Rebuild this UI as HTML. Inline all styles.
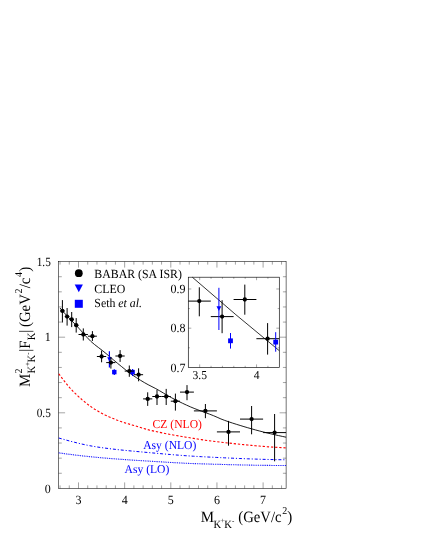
<!DOCTYPE html>
<html><head><meta charset="utf-8"><title>plot</title>
<style>
html,body{margin:0;padding:0;background:#fff;}
body{width:423px;height:547px;overflow:hidden;font-family:"Liberation Serif",serif;}
svg{display:block;position:absolute;left:0;top:0;will-change:transform;}
text{text-rendering:geometricPrecision;}
</style></head><body>
<svg width="423" height="547" viewBox="0 0 423 547">
<rect width="423" height="547" fill="#fff"/>
<rect x="58.6" y="261.6" width="227.50" height="226.80" fill="none" stroke="#000" stroke-width="0.55"/>
<line x1="60.04" y1="488.40" x2="60.04" y2="485.40" stroke="#000" stroke-width="0.36" />
<line x1="60.04" y1="261.60" x2="60.04" y2="264.60" stroke="#000" stroke-width="0.36" />
<line x1="69.27" y1="488.40" x2="69.27" y2="485.40" stroke="#000" stroke-width="0.36" />
<line x1="69.27" y1="261.60" x2="69.27" y2="264.60" stroke="#000" stroke-width="0.36" />
<line x1="78.50" y1="488.40" x2="78.50" y2="482.40" stroke="#000" stroke-width="0.36" />
<line x1="78.50" y1="261.60" x2="78.50" y2="267.60" stroke="#000" stroke-width="0.36" />
<line x1="87.73" y1="488.40" x2="87.73" y2="485.40" stroke="#000" stroke-width="0.36" />
<line x1="87.73" y1="261.60" x2="87.73" y2="264.60" stroke="#000" stroke-width="0.36" />
<line x1="96.96" y1="488.40" x2="96.96" y2="485.40" stroke="#000" stroke-width="0.36" />
<line x1="96.96" y1="261.60" x2="96.96" y2="264.60" stroke="#000" stroke-width="0.36" />
<line x1="106.19" y1="488.40" x2="106.19" y2="485.40" stroke="#000" stroke-width="0.36" />
<line x1="106.19" y1="261.60" x2="106.19" y2="264.60" stroke="#000" stroke-width="0.36" />
<line x1="115.42" y1="488.40" x2="115.42" y2="485.40" stroke="#000" stroke-width="0.36" />
<line x1="115.42" y1="261.60" x2="115.42" y2="264.60" stroke="#000" stroke-width="0.36" />
<line x1="124.65" y1="488.40" x2="124.65" y2="482.40" stroke="#000" stroke-width="0.36" />
<line x1="124.65" y1="261.60" x2="124.65" y2="267.60" stroke="#000" stroke-width="0.36" />
<line x1="133.88" y1="488.40" x2="133.88" y2="485.40" stroke="#000" stroke-width="0.36" />
<line x1="133.88" y1="261.60" x2="133.88" y2="264.60" stroke="#000" stroke-width="0.36" />
<line x1="143.11" y1="488.40" x2="143.11" y2="485.40" stroke="#000" stroke-width="0.36" />
<line x1="143.11" y1="261.60" x2="143.11" y2="264.60" stroke="#000" stroke-width="0.36" />
<line x1="152.34" y1="488.40" x2="152.34" y2="485.40" stroke="#000" stroke-width="0.36" />
<line x1="152.34" y1="261.60" x2="152.34" y2="264.60" stroke="#000" stroke-width="0.36" />
<line x1="161.57" y1="488.40" x2="161.57" y2="485.40" stroke="#000" stroke-width="0.36" />
<line x1="161.57" y1="261.60" x2="161.57" y2="264.60" stroke="#000" stroke-width="0.36" />
<line x1="170.80" y1="488.40" x2="170.80" y2="482.40" stroke="#000" stroke-width="0.36" />
<line x1="170.80" y1="261.60" x2="170.80" y2="267.60" stroke="#000" stroke-width="0.36" />
<line x1="180.03" y1="488.40" x2="180.03" y2="485.40" stroke="#000" stroke-width="0.36" />
<line x1="180.03" y1="261.60" x2="180.03" y2="264.60" stroke="#000" stroke-width="0.36" />
<line x1="189.26" y1="488.40" x2="189.26" y2="485.40" stroke="#000" stroke-width="0.36" />
<line x1="189.26" y1="261.60" x2="189.26" y2="264.60" stroke="#000" stroke-width="0.36" />
<line x1="198.49" y1="488.40" x2="198.49" y2="485.40" stroke="#000" stroke-width="0.36" />
<line x1="198.49" y1="261.60" x2="198.49" y2="264.60" stroke="#000" stroke-width="0.36" />
<line x1="207.72" y1="488.40" x2="207.72" y2="485.40" stroke="#000" stroke-width="0.36" />
<line x1="207.72" y1="261.60" x2="207.72" y2="264.60" stroke="#000" stroke-width="0.36" />
<line x1="216.95" y1="488.40" x2="216.95" y2="482.40" stroke="#000" stroke-width="0.36" />
<line x1="216.95" y1="261.60" x2="216.95" y2="267.60" stroke="#000" stroke-width="0.36" />
<line x1="226.18" y1="488.40" x2="226.18" y2="485.40" stroke="#000" stroke-width="0.36" />
<line x1="226.18" y1="261.60" x2="226.18" y2="264.60" stroke="#000" stroke-width="0.36" />
<line x1="235.41" y1="488.40" x2="235.41" y2="485.40" stroke="#000" stroke-width="0.36" />
<line x1="235.41" y1="261.60" x2="235.41" y2="264.60" stroke="#000" stroke-width="0.36" />
<line x1="244.64" y1="488.40" x2="244.64" y2="485.40" stroke="#000" stroke-width="0.36" />
<line x1="244.64" y1="261.60" x2="244.64" y2="264.60" stroke="#000" stroke-width="0.36" />
<line x1="253.87" y1="488.40" x2="253.87" y2="485.40" stroke="#000" stroke-width="0.36" />
<line x1="253.87" y1="261.60" x2="253.87" y2="264.60" stroke="#000" stroke-width="0.36" />
<line x1="263.10" y1="488.40" x2="263.10" y2="482.40" stroke="#000" stroke-width="0.36" />
<line x1="263.10" y1="261.60" x2="263.10" y2="267.60" stroke="#000" stroke-width="0.36" />
<line x1="272.33" y1="488.40" x2="272.33" y2="485.40" stroke="#000" stroke-width="0.36" />
<line x1="272.33" y1="261.60" x2="272.33" y2="264.60" stroke="#000" stroke-width="0.36" />
<line x1="281.56" y1="488.40" x2="281.56" y2="485.40" stroke="#000" stroke-width="0.36" />
<line x1="281.56" y1="261.60" x2="281.56" y2="264.60" stroke="#000" stroke-width="0.36" />
<line x1="58.60" y1="473.28" x2="61.80" y2="473.28" stroke="#000" stroke-width="0.36" />
<line x1="286.10" y1="473.28" x2="282.90" y2="473.28" stroke="#000" stroke-width="0.36" />
<line x1="58.60" y1="458.16" x2="61.80" y2="458.16" stroke="#000" stroke-width="0.36" />
<line x1="286.10" y1="458.16" x2="282.90" y2="458.16" stroke="#000" stroke-width="0.36" />
<line x1="58.60" y1="443.04" x2="61.80" y2="443.04" stroke="#000" stroke-width="0.36" />
<line x1="286.10" y1="443.04" x2="282.90" y2="443.04" stroke="#000" stroke-width="0.36" />
<line x1="58.60" y1="427.92" x2="61.80" y2="427.92" stroke="#000" stroke-width="0.36" />
<line x1="286.10" y1="427.92" x2="282.90" y2="427.92" stroke="#000" stroke-width="0.36" />
<line x1="58.60" y1="412.80" x2="65.10" y2="412.80" stroke="#000" stroke-width="0.36" />
<line x1="286.10" y1="412.80" x2="279.60" y2="412.80" stroke="#000" stroke-width="0.36" />
<line x1="58.60" y1="397.68" x2="61.80" y2="397.68" stroke="#000" stroke-width="0.36" />
<line x1="286.10" y1="397.68" x2="282.90" y2="397.68" stroke="#000" stroke-width="0.36" />
<line x1="58.60" y1="382.56" x2="61.80" y2="382.56" stroke="#000" stroke-width="0.36" />
<line x1="286.10" y1="382.56" x2="282.90" y2="382.56" stroke="#000" stroke-width="0.36" />
<line x1="58.60" y1="367.44" x2="61.80" y2="367.44" stroke="#000" stroke-width="0.36" />
<line x1="286.10" y1="367.44" x2="282.90" y2="367.44" stroke="#000" stroke-width="0.36" />
<line x1="58.60" y1="352.32" x2="61.80" y2="352.32" stroke="#000" stroke-width="0.36" />
<line x1="286.10" y1="352.32" x2="282.90" y2="352.32" stroke="#000" stroke-width="0.36" />
<line x1="58.60" y1="337.20" x2="65.10" y2="337.20" stroke="#000" stroke-width="0.36" />
<line x1="286.10" y1="337.20" x2="279.60" y2="337.20" stroke="#000" stroke-width="0.36" />
<line x1="58.60" y1="322.08" x2="61.80" y2="322.08" stroke="#000" stroke-width="0.36" />
<line x1="286.10" y1="322.08" x2="282.90" y2="322.08" stroke="#000" stroke-width="0.36" />
<line x1="58.60" y1="306.96" x2="61.80" y2="306.96" stroke="#000" stroke-width="0.36" />
<line x1="286.10" y1="306.96" x2="282.90" y2="306.96" stroke="#000" stroke-width="0.36" />
<line x1="58.60" y1="291.84" x2="61.80" y2="291.84" stroke="#000" stroke-width="0.36" />
<line x1="286.10" y1="291.84" x2="282.90" y2="291.84" stroke="#000" stroke-width="0.36" />
<line x1="58.60" y1="276.72" x2="61.80" y2="276.72" stroke="#000" stroke-width="0.36" />
<line x1="286.10" y1="276.72" x2="282.90" y2="276.72" stroke="#000" stroke-width="0.36" />
<path d="M58.80,373.70 L62.65,378.97 L66.51,383.94 L70.36,388.49 L74.21,392.50 L78.06,396.16 L81.92,399.60 L85.77,402.81 L89.62,405.76 L93.47,408.44 L97.33,410.81 L101.18,412.95 L105.03,414.90 L108.88,416.70 L112.74,418.36 L116.59,419.90 L120.44,421.33 L124.29,422.64 L128.15,423.81 L132.00,424.92 L135.85,426.06 L139.70,427.25 L143.56,428.44 L147.41,429.54 L151.26,430.50 L155.11,431.37 L158.97,432.20 L162.82,433.00 L166.67,433.76 L170.52,434.49 L174.38,435.19 L178.23,435.87 L182.08,436.53 L185.93,437.17 L189.79,437.79 L193.64,438.41 L197.49,439.01 L201.34,439.61 L205.20,440.19 L209.05,440.74 L212.90,441.25 L216.75,441.70 L220.61,442.14 L224.46,442.57 L228.31,443.00 L232.16,443.42 L236.02,443.83 L239.87,444.23 L243.72,444.63 L247.57,445.00 L251.43,445.37 L255.28,445.72 L259.13,446.06 L262.98,446.38 L266.84,446.68 L270.69,446.97 L274.54,447.23 L278.39,447.48 L282.25,447.70 L286.10,447.90" fill="none" stroke="#ff0000" stroke-width="1.1" stroke-dasharray="2.3,1.85"/>
<path d="M58.80,438.00 L62.65,439.09 L66.51,440.16 L70.36,441.20 L74.21,442.20 L78.06,443.16 L81.92,444.06 L85.77,444.90 L89.62,445.68 L93.47,446.38 L97.33,447.00 L101.18,447.57 L105.03,448.09 L108.88,448.59 L112.74,449.05 L116.59,449.50 L120.44,449.91 L124.29,450.31 L128.15,450.69 L132.00,451.06 L135.85,451.42 L139.70,451.77 L143.56,452.12 L147.41,452.47 L151.26,452.81 L155.11,453.16 L158.97,453.51 L162.82,453.85 L166.67,454.19 L170.52,454.52 L174.38,454.84 L178.23,455.15 L182.08,455.45 L185.93,455.73 L189.79,455.99 L193.64,456.24 L197.49,456.46 L201.34,456.67 L205.20,456.87 L209.05,457.07 L212.90,457.26 L216.75,457.45 L220.61,457.64 L224.46,457.82 L228.31,458.00 L232.16,458.18 L236.02,458.35 L239.87,458.51 L243.72,458.66 L247.57,458.81 L251.43,458.95 L255.28,459.09 L259.13,459.21 L262.98,459.33 L266.84,459.43 L270.69,459.53 L274.54,459.61 L278.39,459.69 L282.25,459.75 L286.10,459.80" fill="none" stroke="#0000ff" stroke-width="1.0" stroke-dasharray="3.0,1.9,1.1,1.9"/>
<path d="M58.80,452.90 L62.65,453.42 L66.51,453.93 L70.36,454.42 L74.21,454.90 L78.06,455.37 L81.92,455.82 L85.77,456.25 L89.62,456.66 L93.47,457.04 L97.33,457.40 L101.18,457.74 L105.03,458.07 L108.88,458.39 L112.74,458.69 L116.59,458.98 L120.44,459.27 L124.29,459.54 L128.15,459.81 L132.00,460.07 L135.85,460.32 L139.70,460.57 L143.56,460.81 L147.41,461.04 L151.26,461.28 L155.11,461.51 L158.97,461.75 L162.82,461.98 L166.67,462.21 L170.52,462.44 L174.38,462.66 L178.23,462.87 L182.08,463.07 L185.93,463.25 L189.79,463.43 L193.64,463.58 L197.49,463.72 L201.34,463.84 L205.20,463.95 L209.05,464.07 L212.90,464.18 L216.75,464.29 L220.61,464.40 L224.46,464.51 L228.31,464.61 L232.16,464.71 L236.02,464.81 L239.87,464.90 L243.72,464.99 L247.57,465.07 L251.43,465.14 L255.28,465.21 L259.13,465.28 L262.98,465.33 L266.84,465.38 L270.69,465.42 L274.54,465.46 L278.39,465.48 L282.25,465.50 L286.10,465.50" fill="none" stroke="#0000ff" stroke-width="1.1" stroke-dasharray="0.9,0.9"/>
<path d="M60.00,308.00 L63.83,312.39 L67.66,316.49 L71.50,320.49 L75.33,324.47 L79.16,328.61 L82.99,332.85 L86.83,337.22 L90.66,341.21 L94.49,344.49 L98.32,347.45 L102.15,350.36 L105.99,353.49 L109.82,356.75 L113.65,360.03 L117.48,363.25 L121.32,366.38 L125.15,369.49 L128.98,372.48 L132.81,375.25 L136.64,377.81 L140.48,380.24 L144.31,382.54 L148.14,384.70 L151.97,386.67 L155.81,388.61 L159.64,390.79 L163.47,393.07 L167.30,395.34 L171.13,397.51 L174.97,399.52 L178.80,401.44 L182.63,403.30 L186.46,405.09 L190.29,406.80 L194.13,408.40 L197.96,409.89 L201.79,411.31 L205.62,412.70 L209.46,414.11 L213.29,415.60 L217.12,417.24 L220.95,418.96 L224.78,420.42 L228.62,421.77 L232.45,423.05 L236.28,424.26 L240.11,425.44 L243.95,426.61 L247.78,427.74 L251.61,428.84 L255.44,429.91 L259.27,430.94 L263.11,431.93 L266.94,432.88 L270.77,433.81 L274.60,434.70 L278.44,435.57 L282.27,436.40 L286.10,437.20" fill="none" stroke="#000" stroke-width="0.88"/>
<line x1="109.40" y1="351.30" x2="109.40" y2="367.60" stroke="#0000ff" stroke-width="1.2" />
<path d="M107.2,357.2 L111.60000000000001,357.2 L109.4,361.59999999999997Z" fill="#0000ff"/>
<line x1="114.30" y1="369.20" x2="114.30" y2="375.00" stroke="#0000ff" stroke-width="1.2" />
<rect x="112.1" y="369.90000000000003" width="4.4" height="4.4" fill="#0000ff"/>
<line x1="132.60" y1="369.00" x2="132.60" y2="376.00" stroke="#0000ff" stroke-width="1.2" />
<rect x="130.4" y="369.90000000000003" width="4.4" height="4.4" fill="#0000ff"/>
<line x1="62.40" y1="300.10" x2="62.40" y2="322.50" stroke="#000" stroke-width="1.0" />
<line x1="60.10" y1="310.90" x2="64.70" y2="310.90" stroke="#000" stroke-width="1.0" />
<circle cx="62.4" cy="310.9" r="2.15" fill="#000"/>
<line x1="67.10" y1="308.00" x2="67.10" y2="325.60" stroke="#000" stroke-width="1.0" />
<line x1="64.80" y1="316.60" x2="69.40" y2="316.60" stroke="#000" stroke-width="1.0" />
<circle cx="67.1" cy="316.6" r="2.15" fill="#000"/>
<line x1="71.70" y1="312.00" x2="71.70" y2="327.10" stroke="#000" stroke-width="1.0" />
<line x1="69.40" y1="319.40" x2="74.00" y2="319.40" stroke="#000" stroke-width="1.0" />
<circle cx="71.7" cy="319.4" r="2.15" fill="#000"/>
<line x1="76.20" y1="318.10" x2="76.20" y2="332.60" stroke="#000" stroke-width="1.0" />
<line x1="74.00" y1="325.20" x2="78.50" y2="325.20" stroke="#000" stroke-width="1.0" />
<circle cx="76.2" cy="325.2" r="2.15" fill="#000"/>
<line x1="83.30" y1="328.40" x2="83.30" y2="340.50" stroke="#000" stroke-width="1.0" />
<line x1="78.50" y1="334.50" x2="87.90" y2="334.50" stroke="#000" stroke-width="1.0" />
<circle cx="83.3" cy="334.5" r="2.15" fill="#000"/>
<line x1="92.40" y1="331.10" x2="92.40" y2="341.00" stroke="#000" stroke-width="1.0" />
<line x1="87.90" y1="336.20" x2="96.90" y2="336.20" stroke="#000" stroke-width="1.0" />
<circle cx="92.4" cy="336.2" r="2.15" fill="#000"/>
<line x1="101.60" y1="350.60" x2="101.60" y2="362.30" stroke="#000" stroke-width="1.0" />
<line x1="96.90" y1="356.50" x2="106.20" y2="356.50" stroke="#000" stroke-width="1.0" />
<circle cx="101.6" cy="356.5" r="2.15" fill="#000"/>
<line x1="110.90" y1="357.00" x2="110.90" y2="368.60" stroke="#000" stroke-width="1.0" />
<line x1="106.20" y1="362.60" x2="115.40" y2="362.60" stroke="#000" stroke-width="1.0" />
<circle cx="110.9" cy="362.6" r="2.15" fill="#000"/>
<line x1="120.10" y1="350.10" x2="120.10" y2="361.90" stroke="#000" stroke-width="1.0" />
<line x1="115.40" y1="356.00" x2="124.70" y2="356.00" stroke="#000" stroke-width="1.0" />
<circle cx="120.1" cy="356.0" r="2.15" fill="#000"/>
<line x1="129.30" y1="365.50" x2="129.30" y2="376.80" stroke="#000" stroke-width="1.0" />
<line x1="124.70" y1="371.10" x2="133.90" y2="371.10" stroke="#000" stroke-width="1.0" />
<circle cx="129.3" cy="371.1" r="2.15" fill="#000"/>
<line x1="138.60" y1="368.30" x2="138.60" y2="381.30" stroke="#000" stroke-width="1.0" />
<line x1="133.90" y1="374.70" x2="143.10" y2="374.70" stroke="#000" stroke-width="1.0" />
<circle cx="138.6" cy="374.7" r="2.15" fill="#000"/>
<line x1="147.70" y1="392.30" x2="147.70" y2="405.90" stroke="#000" stroke-width="1.0" />
<line x1="143.10" y1="398.90" x2="152.30" y2="398.90" stroke="#000" stroke-width="1.0" />
<circle cx="147.7" cy="398.9" r="2.15" fill="#000"/>
<line x1="157.00" y1="389.90" x2="157.00" y2="405.00" stroke="#000" stroke-width="1.0" />
<line x1="152.30" y1="396.50" x2="161.60" y2="396.50" stroke="#000" stroke-width="1.0" />
<circle cx="157.0" cy="396.5" r="2.15" fill="#000"/>
<line x1="166.20" y1="388.90" x2="166.20" y2="405.00" stroke="#000" stroke-width="1.0" />
<line x1="161.60" y1="396.50" x2="170.80" y2="396.50" stroke="#000" stroke-width="1.0" />
<circle cx="166.2" cy="396.5" r="2.15" fill="#000"/>
<line x1="175.40" y1="393.60" x2="175.40" y2="410.60" stroke="#000" stroke-width="1.0" />
<line x1="170.80" y1="401.20" x2="180.00" y2="401.20" stroke="#000" stroke-width="1.0" />
<circle cx="175.4" cy="401.2" r="2.15" fill="#000"/>
<line x1="187.00" y1="385.10" x2="187.00" y2="400.20" stroke="#000" stroke-width="1.0" />
<line x1="180.00" y1="392.10" x2="193.90" y2="392.10" stroke="#000" stroke-width="1.0" />
<circle cx="187.0" cy="392.1" r="2.15" fill="#000"/>
<line x1="205.40" y1="404.00" x2="205.40" y2="418.20" stroke="#000" stroke-width="1.0" />
<line x1="193.90" y1="410.90" x2="216.90" y2="410.90" stroke="#000" stroke-width="1.0" />
<circle cx="205.4" cy="410.9" r="2.15" fill="#000"/>
<line x1="228.50" y1="420.90" x2="228.50" y2="445.70" stroke="#000" stroke-width="1.0" />
<line x1="216.90" y1="431.90" x2="240.00" y2="431.90" stroke="#000" stroke-width="1.0" />
<circle cx="228.5" cy="431.9" r="2.15" fill="#000"/>
<line x1="251.60" y1="406.00" x2="251.60" y2="434.30" stroke="#000" stroke-width="1.0" />
<line x1="240.00" y1="419.10" x2="263.10" y2="419.10" stroke="#000" stroke-width="1.0" />
<circle cx="251.6" cy="419.1" r="2.15" fill="#000"/>
<line x1="274.60" y1="414.00" x2="274.60" y2="461.30" stroke="#000" stroke-width="1.0" />
<line x1="263.10" y1="432.60" x2="286.10" y2="432.60" stroke="#000" stroke-width="1.0" />
<circle cx="274.6" cy="432.6" r="2.15" fill="#000"/>
<rect x="188.3" y="277.2" width="91.00" height="90.20" fill="#fff" stroke="#000" stroke-width="0.65"/>
<line x1="199.68" y1="367.40" x2="199.68" y2="364.40" stroke="#000" stroke-width="0.35" />
<line x1="199.68" y1="277.20" x2="199.68" y2="280.20" stroke="#000" stroke-width="0.35" />
<line x1="211.05" y1="367.40" x2="211.05" y2="365.80" stroke="#000" stroke-width="0.35" />
<line x1="211.05" y1="277.20" x2="211.05" y2="278.80" stroke="#000" stroke-width="0.35" />
<line x1="222.42" y1="367.40" x2="222.42" y2="365.80" stroke="#000" stroke-width="0.35" />
<line x1="222.42" y1="277.20" x2="222.42" y2="278.80" stroke="#000" stroke-width="0.35" />
<line x1="233.80" y1="367.40" x2="233.80" y2="365.80" stroke="#000" stroke-width="0.35" />
<line x1="233.80" y1="277.20" x2="233.80" y2="278.80" stroke="#000" stroke-width="0.35" />
<line x1="245.18" y1="367.40" x2="245.18" y2="365.80" stroke="#000" stroke-width="0.35" />
<line x1="245.18" y1="277.20" x2="245.18" y2="278.80" stroke="#000" stroke-width="0.35" />
<line x1="256.55" y1="367.40" x2="256.55" y2="364.40" stroke="#000" stroke-width="0.35" />
<line x1="256.55" y1="277.20" x2="256.55" y2="280.20" stroke="#000" stroke-width="0.35" />
<line x1="267.92" y1="367.40" x2="267.92" y2="365.80" stroke="#000" stroke-width="0.35" />
<line x1="267.92" y1="277.20" x2="267.92" y2="278.80" stroke="#000" stroke-width="0.35" />
<line x1="188.30" y1="347.79" x2="189.90" y2="347.79" stroke="#000" stroke-width="0.35" />
<line x1="279.30" y1="347.79" x2="277.70" y2="347.79" stroke="#000" stroke-width="0.35" />
<line x1="188.30" y1="328.18" x2="191.30" y2="328.18" stroke="#000" stroke-width="0.35" />
<line x1="279.30" y1="328.18" x2="276.30" y2="328.18" stroke="#000" stroke-width="0.35" />
<line x1="188.30" y1="308.57" x2="189.90" y2="308.57" stroke="#000" stroke-width="0.35" />
<line x1="279.30" y1="308.57" x2="277.70" y2="308.57" stroke="#000" stroke-width="0.35" />
<line x1="188.30" y1="288.97" x2="191.30" y2="288.97" stroke="#000" stroke-width="0.35" />
<line x1="279.30" y1="288.97" x2="276.30" y2="288.97" stroke="#000" stroke-width="0.35" />
<path d="M192.3,277.2 Q236,315.5 279.3,350.7" fill="none" stroke="#000" stroke-width="0.8"/>
<line x1="199.30" y1="287.30" x2="199.30" y2="316.30" stroke="#000" stroke-width="1.0" />
<line x1="188.30" y1="301.10" x2="210.80" y2="301.10" stroke="#000" stroke-width="1.0" />
<circle cx="199.3" cy="301.1" r="2.15" fill="#000"/>
<line x1="222.10" y1="300.20" x2="222.10" y2="333.20" stroke="#000" stroke-width="1.0" />
<line x1="210.80" y1="316.60" x2="233.60" y2="316.60" stroke="#000" stroke-width="1.0" />
<circle cx="222.1" cy="316.6" r="2.15" fill="#000"/>
<line x1="244.80" y1="284.60" x2="244.80" y2="314.70" stroke="#000" stroke-width="1.0" />
<line x1="233.60" y1="299.50" x2="256.40" y2="299.50" stroke="#000" stroke-width="1.0" />
<circle cx="244.8" cy="299.5" r="2.15" fill="#000"/>
<line x1="267.60" y1="323.10" x2="267.60" y2="354.60" stroke="#000" stroke-width="1.0" />
<line x1="256.40" y1="338.70" x2="279.30" y2="338.70" stroke="#000" stroke-width="1.0" />
<circle cx="267.6" cy="338.7" r="2.15" fill="#000"/>
<line x1="218.90" y1="287.80" x2="218.90" y2="330.00" stroke="#0000ff" stroke-width="1.0" />
<path d="M216.5,306.2 L221.3,306.2 L218.9,311.0Z" fill="#0000ff"/>
<line x1="230.50" y1="333.00" x2="230.50" y2="348.60" stroke="#0000ff" stroke-width="1.0" />
<rect x="228.1" y="338.40000000000003" width="4.8" height="4.8" fill="#0000ff"/>
<line x1="275.70" y1="332.20" x2="275.70" y2="351.70" stroke="#0000ff" stroke-width="1.0" />
<rect x="273.3" y="339.70000000000005" width="4.8" height="4.8" fill="#0000ff"/>
<circle cx="78.8" cy="273.2" r="3.9" fill="#000"/>
<path d="M74.7,284.5 L82.9,284.5 L78.8,292.3Z" fill="#0000ff"/>
<rect x="74.8" y="299.8" width="8.0" height="8.0" fill="#0000ff"/>
<text transform="translate(94.3,277.6) scale(1.0,1.05)" font-family="Liberation Serif, serif" font-size="11.85" text-anchor="start" fill="#000" >BABAR (SA ISR)</text>
<text transform="translate(94.3,292.6) scale(1.0,1.05)" font-family="Liberation Serif, serif" font-size="11.85" text-anchor="start" fill="#000" >CLEO</text>
<text transform="translate(94.3,307.3) scale(1.0,1.05)" font-family="Liberation Serif, serif" font-size="11.85" text-anchor="start" fill="#000" >Seth <tspan font-style="italic">et al.</tspan></text>
<text transform="translate(152.6,428.0) scale(1.0,1.05)" font-family="Liberation Serif, serif" font-size="11.6" text-anchor="start" fill="#ff0000" >CZ (NLO)</text>
<text transform="translate(143.2,449.0) scale(1.0,1.05)" font-family="Liberation Serif, serif" font-size="11.6" text-anchor="start" fill="#0000ff" >Asy (NLO)</text>
<text transform="translate(124.6,472.8) scale(1.0,1.03)" font-family="Liberation Serif, serif" font-size="11.6" text-anchor="start" fill="#0000ff" >Asy (LO)</text>
<text transform="translate(78.50,504.0) scale(1.0,1.05)" font-family="Liberation Serif, serif" font-size="12" text-anchor="middle" fill="#000" >3</text>
<text transform="translate(124.65,504.0) scale(1.0,1.05)" font-family="Liberation Serif, serif" font-size="12" text-anchor="middle" fill="#000" >4</text>
<text transform="translate(170.80,504.0) scale(1.0,1.05)" font-family="Liberation Serif, serif" font-size="12" text-anchor="middle" fill="#000" >5</text>
<text transform="translate(216.95,504.0) scale(1.0,1.05)" font-family="Liberation Serif, serif" font-size="12" text-anchor="middle" fill="#000" >6</text>
<text transform="translate(263.10,504.0) scale(1.0,1.05)" font-family="Liberation Serif, serif" font-size="12" text-anchor="middle" fill="#000" >7</text>
<text transform="translate(50.8,492.50) scale(1.0,1.05)" font-family="Liberation Serif, serif" font-size="12" text-anchor="end" fill="#000" >0</text>
<text transform="translate(50.8,416.90) scale(0.94,1.05)" font-family="Liberation Serif, serif" font-size="12" text-anchor="end" fill="#000" >0.5</text>
<text transform="translate(50.8,341.30) scale(1.0,1.05)" font-family="Liberation Serif, serif" font-size="12" text-anchor="end" fill="#000" >1</text>
<text transform="translate(50.8,265.70) scale(0.94,1.05)" font-family="Liberation Serif, serif" font-size="12" text-anchor="end" fill="#000" >1.5</text>
<text transform="translate(199.68,379.3) scale(1.0,1.05)" font-family="Liberation Serif, serif" font-size="11.6" text-anchor="middle" fill="#000" >3.5</text>
<text transform="translate(256.55,379.3) scale(1.0,1.05)" font-family="Liberation Serif, serif" font-size="11.6" text-anchor="middle" fill="#000" >4</text>
<text transform="translate(185.4,371.60) scale(1.0,1.05)" font-family="Liberation Serif, serif" font-size="12" text-anchor="end" fill="#000" >0.7</text>
<text transform="translate(185.4,332.38) scale(1.0,1.05)" font-family="Liberation Serif, serif" font-size="12" text-anchor="end" fill="#000" >0.8</text>
<text transform="translate(185.4,293.17) scale(1.0,1.05)" font-family="Liberation Serif, serif" font-size="12" text-anchor="end" fill="#000" >0.9</text>
<g transform="translate(200.7,522.0)" font-family="Liberation Serif, serif" fill="#000">
<text transform="translate(0,0) scale(1.0,1.05)" font-size="15">M</text>
<text transform="translate(12.8,6.2) scale(1.0,1.05)" font-size="10.6">K</text>
<text transform="translate(20.0,0.6) scale(1.0,1.05)" font-size="7">+</text>
<text transform="translate(23.6,6.2) scale(1.0,1.05)" font-size="10.6">K</text>
<text transform="translate(31.2,0.6) scale(1.0,1.05)" font-size="7">-</text>
<text transform="translate(37.6,0) scale(0.98,1.05)" font-size="15">(GeV/c</text>
<text transform="translate(81.6,-7.8) scale(1.0,1.05)" font-size="10">2</text>
<text transform="translate(86.6,0) scale(1.0,1.05)" font-size="15">)</text>
</g>
<g transform="translate(29.9,387.0) rotate(-90)" font-family="Liberation Serif, serif" fill="#000">
<text transform="translate(0,0) scale(1.0,1.05)" font-size="15">M</text>
<text transform="translate(13.5,-8.2) scale(1.0,1.05)" font-size="10">2</text>
<text transform="translate(13.5,5.4) scale(1.0,1.05)" font-size="10.6">K</text>
<text transform="translate(20.9,-0.3) scale(1.0,1.05)" font-size="7">+</text>
<text transform="translate(24.6,5.4) scale(1.0,1.05)" font-size="10.6">K</text>
<text transform="translate(32.3,-0.3) scale(1.0,1.05)" font-size="7">-</text>
<text transform="translate(35.2,0) scale(1.0,1.05)" font-size="15">|F</text>
<text transform="translate(46.7,5.4) scale(1.0,1.05)" font-size="10.6">K</text>
<text transform="translate(54.2,0) scale(1.0,1.05)" font-size="15">|</text>
<text transform="translate(60.0,0) scale(0.985,1.05)" font-size="15">(GeV</text>
<text transform="translate(93.6,-7.8) scale(1.0,1.05)" font-size="10">2</text>
<text transform="translate(98.7,0) scale(1.0,1.05)" font-size="15">/c</text>
<text transform="translate(110.0,-7.8) scale(1.0,1.05)" font-size="10">4</text>
<text transform="translate(115.2,0) scale(1.0,1.05)" font-size="15">)</text>
</g>
</svg>
</body></html>
